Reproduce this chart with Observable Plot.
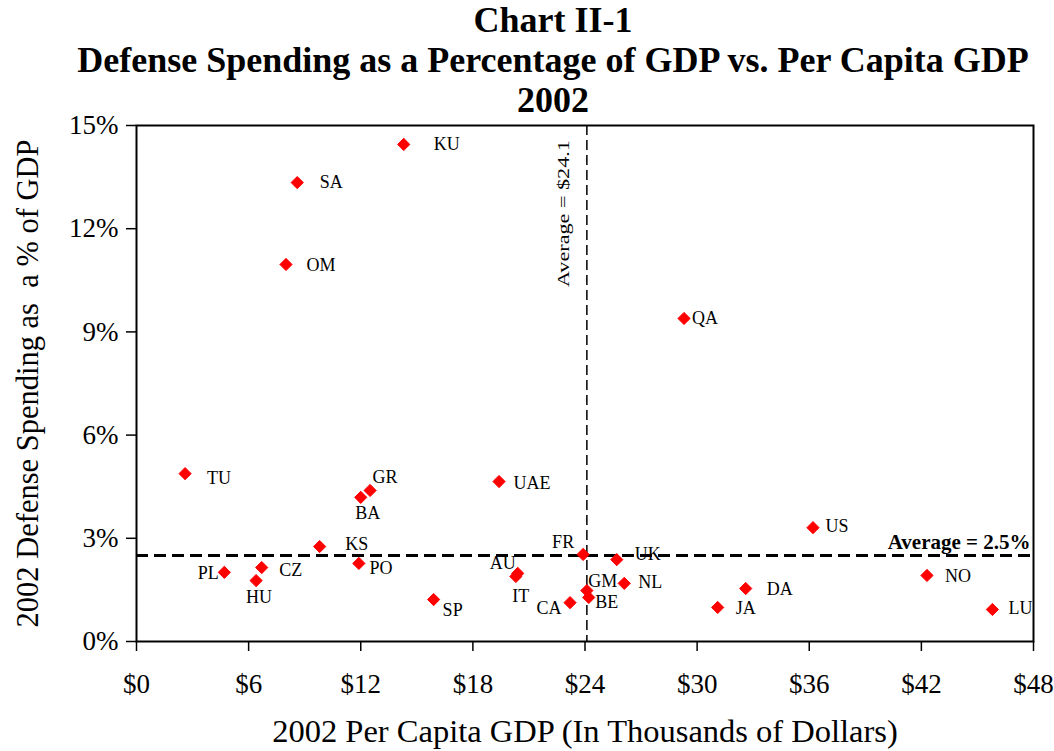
<!DOCTYPE html>
<html><head><meta charset="utf-8">
<script src="https://cdn.jsdelivr.net/npm/d3@7"></script>
<script src="https://cdn.jsdelivr.net/npm/@observablehq/plot@0.6"></script>
<style>
body{margin:0;background:#fff;font-family:"Liberation Serif",serif;}
#title{width:1002px;padding-left:52px;height:120px;text-align:center;font-weight:bold;font-size:36px;line-height:40px;color:#000;}
#chart svg{display:block;margin-top:-20px;overflow:visible;}
</style></head><body>
<div id="title"><div>Chart II-1</div><div>Defense Spending as a Percentage of GDP vs. Per Capita GDP</div><div>2002</div></div>
<div id="chart"></div>
<script>
const countries = ["KU","SA","OM","QA","TU","GR","BA","UAE","US","KS","FR","UK","PL","CZ","HU","PO","AU","IT","GM","BE","NL","CA","SP","JA","DA","NO","LU"];
const gdpPerCapita = [14.3,8.6,8.0,29.3,2.6,12.5,12.0,19.4,36.2,9.8,23.9,25.7,4.7,6.7,6.4,11.9,20.4,20.3,24.1,24.2,26.1,23.2,15.9,31.1,32.6,42.3,45.8];
const defensePct = [14.45,13.34,10.96,9.39,4.88,4.39,4.19,4.65,3.31,2.76,2.53,2.38,2.01,2.15,1.77,2.27,1.98,1.89,1.48,1.28,1.69,1.13,1.22,0.99,1.54,1.92,0.93];
const avgGdp = 24.1;
const avgDefense = 2.5;
const xTicks = [0,6,12,18,24,30,36,42,48];
const yTicks = [0,3,6,9,12,15];

// label placement (pixel offsets from each point)
const labelOffset = {KU:[43,0],SA:[34,0],OM:[35,1],QA:[21,0],TU:[34,5],GR:[15,-13],BA:[7,16],UAE:[33,2],US:[24,-1],KS:[37,-2],FR:[-20,-12],UK:[31,-5],PL:[-16,1],CZ:[29,3],HU:[3,17],PO:[22,5],AU:[-15,-10],IT:[5,20],GM:[16,-9],BE:[18,5],NL:[26,-1],CA:[-21,6],SP:[19,11],JA:[28,1],DA:[34,1],NO:[31,1],LU:[28,-1]};

const rows = countries.map((c,i)=>({country:c, gdp:gdpPerCapita[i], def:defensePct[i]}));

const font = "Liberation Serif";
const chart = Plot.plot({
  width: 1054,
  height: 651,
  marginTop: 25,
  marginBottom: 110,
  marginLeft: 136,
  marginRight: 21,
  style: {fontFamily: font, color: "#000", background: "#fff", overflow: "visible"},
  x: {domain: [0,48]},
  y: {domain: [0,15]},
  marks: [
    Plot.frame({stroke:"#000", strokeWidth:2}),
    Plot.axisX(xTicks, {tickFormat: d => "$" + d, tickSize: 10, tickPadding: 22, fontSize: 27, label: null, stroke:"#000", strokeWidth:1.5}),
    Plot.axisY(yTicks, {tickFormat: d => d + "%", tickSize: 10, tickPadding: 8, fontSize: 27, label: null, stroke:"#000", strokeWidth:1.5}),
    Plot.ruleY([avgDefense], {stroke:"#000", strokeWidth:3, strokeDasharray:"12,6"}),
    Plot.ruleX([avgGdp], {stroke:"#000", strokeWidth:1.5, strokeDasharray:"10,5"}),
    Plot.text(["Average = 2.5%"], {x: () => 48, y: () => avgDefense, textAnchor:"end", dx:-3, dy:-13, fontSize:21, fontWeight:"bold", fill:"#000"}),
    Plot.text(["Average = $24.1"], {x: () => avgGdp, y: () => 12.44, rotate:-90, dx:-23, fontSize:17, fill:"#000"}),
    Plot.dot(rows, {x:"gdp", y:"def", symbol:"diamond2", r:5.5, fill:"#ff0000", stroke:"#ff0000", strokeWidth:1}),
    ...rows.map(d => Plot.text([d], {x:"gdp", y:"def", text:"country", dx: labelOffset[d.country][0], dy: labelOffset[d.country][1], fontSize:18, fill:"#000"})),
    Plot.text(["2002 Per Capita GDP (In Thousands of Dollars)"], {frameAnchor:"bottom", textAnchor:"middle", dy: 100, fontSize:32.5, fill:"#000"}),
    Plot.text(["2002 Defense Spending as  a % of GDP"], {frameAnchor:"left", textAnchor:"middle", rotate:-90, dx:-108, fontSize:30.5, fill:"#000"})
  ]
});
document.getElementById("chart").appendChild(chart);
d3.select(chart).selectAll("text").filter(function(){ return this.textContent === "Average = $24.1"; })
  .attr("textLength", 147).attr("lengthAdjust", "spacingAndGlyphs");
</script>
</body></html>
